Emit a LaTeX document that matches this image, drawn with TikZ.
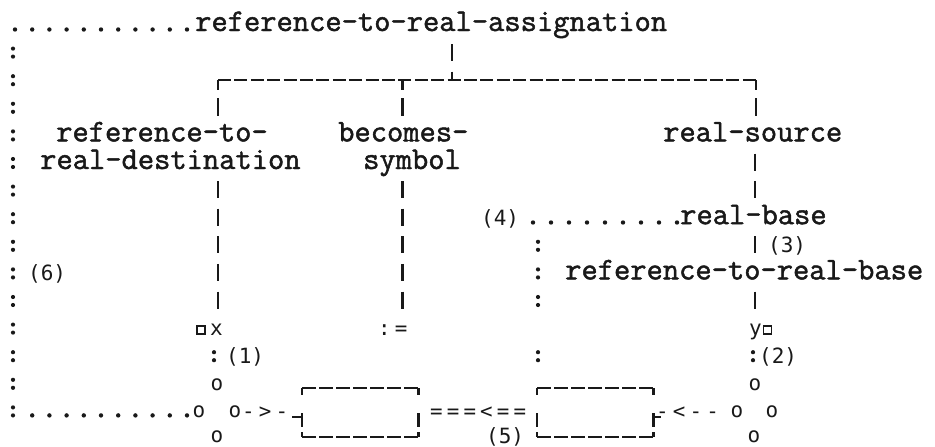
\documentclass[tikz,border=0pt]{standalone}
\usepackage{fontspec}
\newfontfamily\typeface{Latin Modern Mono}[FakeBold=1.5]
\newfontfamily\gothic{DejaVu Sans Mono}
\newfontfamily\gothicwide{DejaVu Sans Mono}[LetterSpace=20]

\tikzset{
  word/.style={font=\typeface\fontsize{31.6}{27.6}\selectfont, inner sep=0pt, anchor=base west,
               text height=15pt, text depth=4pt, text=black!90},
  tag/.style={font=\gothic\fontsize{21}{21}\selectfont, inner sep=0pt, anchor=base west,
              text height=15pt, text depth=3pt, text=black!90},
  sym/.style={font=\gothicwide\fontsize{20.8}{20.8}\selectfont, inner sep=0pt, anchor=base west, text=black!90},
  ring/.style={font=\gothic\fontsize{21}{21}\selectfont, inner sep=0pt, anchor=center, text=black!90},
  sq/.style={draw=black!90, line width=1.8pt, minimum size=8pt, inner sep=0pt},
  frame/.style={minimum width=116pt, minimum height=49pt, inner sep=0pt, anchor=north west},
  bars/.style={draw=black!90, line width=2.3pt, dash pattern=on 17pt off 10.6pt},
  corner/.style={draw=black!90, line width=2.3pt, dash pattern=on 10pt off 8pt on 18pt off 100pt},
  rule/.style={draw=black!90, line width=2pt, dash pattern=on #1 off 3.4pt},
  rule/.default=13pt,
  side/.style={draw=black!90, line width=2.3pt, dash pattern=on 7pt off 18pt on 14pt off 5pt on 5pt off 100pt},
  tick/.style={draw=black!90, line width=2.3pt},
  dots/.style={draw=black!90, line width=4.4pt, line cap=round, dash pattern=on 0pt off #1},
  dots/.default=17.2pt,
  colons/.style={draw=black!90, line width=4.2pt, line cap=round, dash pattern=on 0pt off 8pt on 0pt off 19.6pt},
}

\begin{document}
\begin{tikzpicture}[x=1pt, y=-1pt]
\useasboundingbox[fill=white] (0,0) rectangle (935,447);

% ---- words of the tree
\node[word] (title) at (195,31) {reference-to-real-assignation};
\node[word] (refA)  at (56,141.4) {reference-to-};
\node[word] (refB)  at (40,169) {real-destination};
\node[word] (becA)  at (338,141.4) {becomes-};
\node[word] (becB)  at (363,169) {symbol};
\node[word] (src)   at (663,141.4) {real-source};
\node[word] (base)  at (680,224.2) {real-base};
\node[word] (rbase) at (565,279.4) {reference-to-real-base};

% ---- numbered marks
\node[tag] (l4) at (481,225.2) {(4)};
\node[tag] (l3) at (768,252.8) {(3)};
\node[tag] (l6) at (28,280.4) {(6)};
\node[tag] (l1) at (226,363.2) {(1)};
\node[tag] (l2) at (759,363.2) {(2)};
\node[tag] (l5) at (486,443) {(5)};

% ---- leaves
\node[sq]  (sqA) at (201,330) {};
\node[tag] (xs)  at (210,335.6) {x};
\node[sym] (assign) at (378,335.6) {:=};
\node[tag] (ys)  at (749,335.6) {y};
\node[sq]  (sqB) at (767.5,330) {};

% ---- junction rings
\node[ring] (oT1) at (217,385) {o};
\node[ring] (oL1) at (199,412) {o};
\node[ring] (oR1) at (235,412) {o};
\node[ring] (oB1) at (217,437) {o};
\node[ring] (oT2) at (755,385) {o};
\node[ring] (oL2) at (737,412) {o};
\node[ring] (oR2) at (772,412) {o};
\node[ring] (oB2) at (754,437) {o};

% ---- the two boxes and what runs between them
\node[frame] (lbox) at (302,388) {};
\node[frame] (rbox) at (537,388) {};
\node[sym] (toR) at (242,418.4) {->-};
\node[sym] (eqs) at (430,418.4) {===<==};
\node[sym] (toL) at (656,418.4) {-<--};

\foreach \b in {lbox,rbox}{
  \draw[rule=13.66pt] (\b.north west) -- (\b.north east);
  \draw[rule=13.66pt] (\b.south west) -- (\b.south east);
  \draw[side] (\b.north west) -- (\b.south west);
  \draw[side] (\b.north east) -- (\b.south east);
}
\draw[tick] ([yshift=-29pt]lbox.north west) -- ++(-10,0);
\draw[tick] ([yshift=-29pt]rbox.north east) -- ++(8,0);

% ---- junction points of the tree
\coordinate (jT) at (452,80);
\coordinate (jL) at (218,80);
\coordinate (jM) at (402.5,80);
\coordinate (jR) at (756,80);

\draw[bars] (452,44) -- (jT);
\draw[rule] (jL) -- (jR);
\draw[corner] (jL) -- (218,116);
\draw[corner] (jM) -- (402.5,116);
\draw[corner] (jR) -- (756,116);

% ---- descending columns
\draw[bars] (218,181.1) -- (218,308.5);
\draw[bars] (402.5,181.1) -- (402.5,308.5);
\draw[bars] (755,153.5) -- (755,198.1);
\draw[bars] (755,236.3) -- (755,253.3);
\draw[bars] (755,291.5) -- (755,308.5);

% ---- dotted links
\coordinate (d0) at (15,29.5);
\draw[dots] (d0) -- (188,29.5);
\coordinate (c0) at (13,48.6);
\draw[colons] (c0) -- (13,416.4);
\draw[dots] (32.2,415.4) -- (188,415.4);
\draw[dots=18pt] (533,222.5) -- (678,222.5);
\draw[draw=black!90, line width=4.2pt, line cap=round,
      dash pattern=on 0pt off 8pt on 0pt off 19.6pt on 0pt off 8pt on 0pt off 19.6pt on 0pt off 8pt on 0pt off 47.2pt on 0pt off 8pt on 0pt off 100pt]
      (538,241.8) -- (538,361.2);
\draw[colons] (214,352.2) -- (214,361);
\draw[colons] (753,352.2) -- (753,361);
\end{tikzpicture}
\end{document}
